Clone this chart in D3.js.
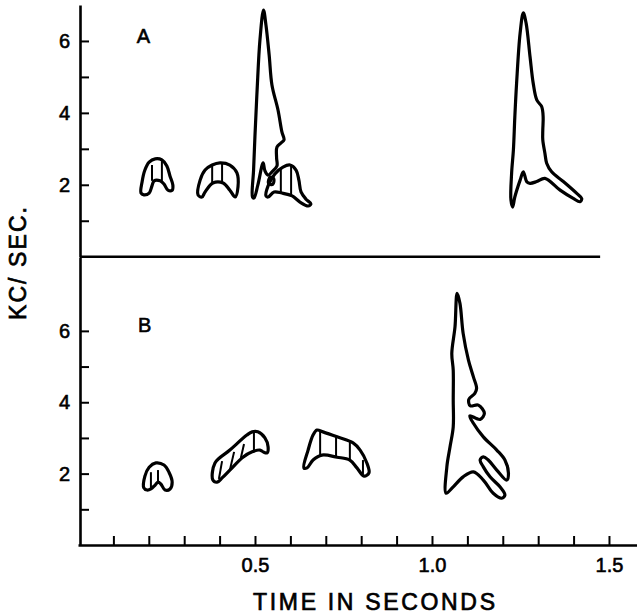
<!DOCTYPE html>
<html>
<head>
<meta charset="utf-8">
<script src="https://cdn.jsdelivr.net/npm/d3@7"></script>
<style>
body{margin:0;background:#fff}
text{font-family:"Liberation Sans",Arial,sans-serif;fill:#000}
</style>
</head>
<body>
<script>
//axis ticks
var timeTicks = [0.1,0.2,0.3,0.4,0.5,0.6,0.7,0.8,0.9,1.0,1.1,1.2,1.3,1.4,1.5];
var timeLabels = [0.5,1.0,1.5];
var freqTicks = [1,2,3,4,5,6];
var freqLabels = [2,4,6];

//panel A outlines, [time in s, kc/sec]
var a1 = [[0.178,1.77],[0.181,2.08],[0.189,2.41],[0.201,2.63],[0.218,2.72],[0.237,2.69],[0.251,2.52],[0.260,2.24],[0.268,1.99],[0.266,1.85],[0.254,1.85],[0.243,2.02],[0.232,2.11],[0.215,2.11],[0.209,1.97],[0.201,1.77],[0.186,1.72]];
var a2 = [[0.339,1.72],[0.345,2.13],[0.359,2.41],[0.379,2.55],[0.401,2.61],[0.429,2.55],[0.449,2.33],[0.452,1.94],[0.444,1.66],[0.429,1.85],[0.410,2.05],[0.381,2.05],[0.359,1.80],[0.350,1.66]];
var a3 = [[0.493,1.66],[0.496,2.41],[0.500,3.38],[0.506,4.64],[0.514,6.03],[0.524,6.86],[0.531,6.44],[0.540,5.61],[0.548,4.77],[0.565,4.08],[0.576,3.47],[0.582,3.25],[0.573,3.16],[0.562,3.05],[0.561,2.75],[0.562,2.52],[0.548,2.36],[0.537,2.27],[0.528,2.39],[0.523,2.61],[0.508,1.99],[0.497,1.63]];
var a4 = [[0.531,1.69],[0.537,1.97],[0.556,2.30],[0.579,2.49],[0.599,2.55],[0.616,2.41],[0.624,2.13],[0.630,1.80],[0.644,1.60],[0.658,1.47],[0.650,1.41],[0.627,1.52],[0.605,1.69],[0.576,1.77],[0.554,1.80],[0.537,1.66]];
var a5 = [[0.538,2.04],[0.543,2.21],[0.553,2.17],[0.550,2.01]];
var a6 = [[1.258,6.78],[1.249,6.22],[1.239,4.82],[1.234,3.88],[1.230,2.97],[1.225,2.33],[1.223,1.58],[1.228,1.38],[1.234,1.66],[1.249,2.13],[1.258,2.36],[1.268,2.08],[1.277,2.04],[1.296,2.09],[1.319,2.18],[1.362,1.85],[1.399,1.62],[1.418,1.53],[1.423,1.62],[1.409,1.76],[1.371,2.09],[1.338,2.36],[1.324,2.60],[1.319,2.88],[1.313,3.25],[1.313,3.52],[1.314,3.89],[1.310,4.17],[1.296,4.36],[1.286,4.82],[1.277,5.56],[1.266,6.49]];
var aHatch = [[[0.209,2.55],[0.209,2.11]],[[0.237,2.66],[0.237,2.11]],[[0.379,2.55],[0.379,2.05]],[[0.407,2.60],[0.407,2.05]],[[0.573,2.47],[0.573,1.78]],[[0.602,2.53],[0.602,1.70]]];

//panel B outlines
var b1 = [[0.186,1.60],[0.189,1.93],[0.201,2.18],[0.220,2.30],[0.243,2.24],[0.257,2.04],[0.266,1.76],[0.260,1.57],[0.246,1.54],[0.234,1.71],[0.226,1.76],[0.218,1.68],[0.206,1.57],[0.195,1.54]];
var b2 = [[0.381,1.82],[0.387,2.30],[0.429,2.66],[0.477,3.08],[0.492,3.17],[0.508,3.17],[0.528,3.00],[0.537,2.75],[0.534,2.58],[0.523,2.61],[0.514,2.66],[0.492,2.61],[0.466,2.46],[0.429,2.10],[0.407,1.88],[0.393,1.76]];
var b3 = [[0.638,2.16],[0.650,2.66],[0.664,3.08],[0.675,3.22],[0.692,3.17],[0.732,3.03],[0.777,2.86],[0.797,2.66],[0.816,2.30],[0.822,2.02],[0.808,1.93],[0.788,2.16],[0.768,2.38],[0.732,2.46],[0.689,2.52],[0.664,2.38],[0.647,2.16]];
var b4 = [[1.071,7.05],[1.065,6.11],[1.056,5.37],[1.060,4.90],[1.060,4.06],[1.060,3.31],[1.051,2.75],[1.042,2.19],[1.040,1.45],[1.060,1.63],[1.088,1.91],[1.117,2.05],[1.145,1.82],[1.173,1.45],[1.197,1.31],[1.206,1.40],[1.192,1.63],[1.164,1.91],[1.145,2.19],[1.136,2.38],[1.145,2.47],[1.159,2.38],[1.183,2.10],[1.211,1.82],[1.216,2.01],[1.206,2.38],[1.183,2.66],[1.145,3.03],[1.117,3.41],[1.107,3.62],[1.136,3.52],[1.148,3.69],[1.131,3.92],[1.108,3.90],[1.104,4.08],[1.121,4.25],[1.126,4.39],[1.117,4.71],[1.103,5.18],[1.088,5.93],[1.079,6.77]];
var bHatch = [[[0.206,2.04],[0.206,1.60]],[[0.226,2.10],[0.226,1.76]],[[0.407,2.35],[0.398,1.85]],[[0.441,2.61],[0.429,2.10]],[[0.469,2.83],[0.460,2.44]],[[0.497,3.17],[0.497,2.61]],[[0.684,3.19],[0.684,2.52]],[[0.729,3.03],[0.729,2.46]],[[0.768,2.89],[0.768,2.35]],[[0.805,2.38],[0.805,1.99]]];

var W = 637, H = 615;
var axisX = 80;
var numFont = "DejaVu Sans";

var svg = d3.select("body").append("svg")
    .attr("width", W)
    .attr("height", H);

var x = d3.scaleLinear().domain([0, 1.58]).range([78, 637.3]);
var yA = d3.scaleLinear().domain([0, 7]).range([256.7, 5]);
var yB = d3.scaleLinear().domain([0, 8.07]).range([545, 257]);

function fmtFreq(d){ return freqLabels.indexOf(d) >= 0 ? d : ""; }

//left axes, ticks pointing inwards
[yA, yB].forEach(function(y){
    var g = svg.append("g")
        .attr("transform", "translate(" + axisX + ",0)")
        .call(d3.axisLeft(y).tickValues(freqTicks).tickFormat(fmtFreq)
            .tickSizeInner(-9).tickSizeOuter(0).tickPadding(10));
    g.select(".domain").attr("stroke-width", 2.6);
    g.selectAll(".tick line").attr("stroke-width", 2);
    g.selectAll("text").attr("font-size", 20).attr("font-family", numFont)
        .attr("stroke", "#000").attr("stroke-width", 0.6);
});

//bottom axis
var gx = svg.append("g")
    .attr("transform", "translate(0," + yB(0) + ")")
    .call(d3.axisBottom(x).tickValues(timeTicks)
        .tickFormat(function(d){ return timeLabels.indexOf(d) >= 0 ? d3.format(".1f")(d) : ""; })
        .tickSizeInner(-9).tickSizeOuter(0).tickPadding(13));
gx.select(".domain").attr("stroke-width", 2.6);
gx.selectAll(".tick line").attr("stroke-width", 2);
gx.selectAll("text").attr("font-size", 20).attr("font-family", numFont)
    .attr("stroke", "#000").attr("stroke-width", 0.6);

//divider between the two panels
svg.append("line")
    .attr("x1", axisX).attr("x2", x(1.475))
    .attr("y1", yA(0)).attr("y2", yA(0))
    .attr("stroke", "#000").attr("stroke-width", 2.4);

//outlines
function drawPanel(y, shapes, hatches){
    var outline = d3.line().x(function(d){ return x(d[0]); }).y(function(d){ return y(d[1]); })
        .curve(d3.curveCatmullRomClosed.alpha(0.5));
    var seg = d3.line().x(function(d){ return x(d[0]); }).y(function(d){ return y(d[1]); });
    var g = svg.append("g");
    g.selectAll("path.shape").data(shapes).enter().append("path")
        .attr("class", "shape")
        .attr("d", outline)
        .attr("fill", "none").attr("stroke", "#000")
        .attr("stroke-width", 3.2).attr("stroke-linejoin", "round");
    g.selectAll("path.hatch").data(hatches).enter().append("path")
        .attr("class", "hatch")
        .attr("d", seg)
        .attr("fill", "none").attr("stroke", "#000")
        .attr("stroke-width", 2);
}
drawPanel(yA, [a1, a2, a3, a4, a5, a6], aHatch);
drawPanel(yB, [b1, b2, b3, b4], bHatch);

//panel letters
svg.append("text").attr("x", x(0.185)).attr("y", yA(5.94))
    .attr("text-anchor", "middle").attr("font-size", 20).attr("font-family", numFont)
    .attr("stroke", "#000").attr("stroke-width", 0.6).text("A");
svg.append("text").attr("x", x(0.188)).attr("y", yB(5.97))
    .attr("text-anchor", "middle").attr("font-size", 20).attr("font-family", numFont)
    .attr("stroke", "#000").attr("stroke-width", 0.6).text("B");

//axis titles
svg.append("text").attr("x", 253).attr("y", 610)
    .attr("font-size", 23).attr("textLength", 242).attr("lengthAdjust", "spacing")
    .attr("stroke", "#000").attr("stroke-width", 0.7)
    .text("TIME IN SECONDS");
svg.append("text")
    .attr("transform", "translate(26,320) rotate(-90)")
    .attr("font-size", 23).attr("textLength", 113).attr("lengthAdjust", "spacing")
    .attr("stroke", "#000").attr("stroke-width", 0.7)
    .text("KC/ SEC.");
</script>
</body>
</html>
